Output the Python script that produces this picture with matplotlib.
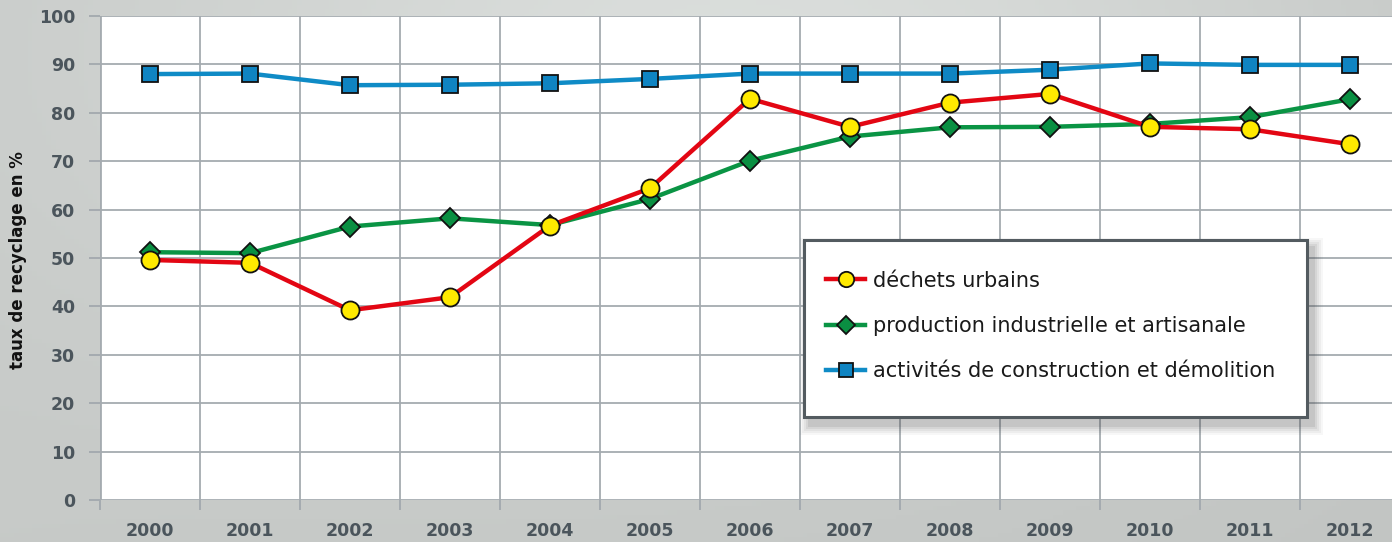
import numpy as np
import matplotlib
matplotlib.use("Agg")
import matplotlib.pyplot as plt
from matplotlib.patches import Rectangle

years = ["2000", "2001", "2002", "2003", "2004", "2005", "2006",
         "2007", "2008", "2009", "2010", "2011", "2012"]
urbains = [49.6, 49.0, 39.2, 41.9, 56.7, 64.4, 82.9, 77.1, 82.1, 83.9, 77.1, 76.6, 73.5]
industrie = [51.2, 51.0, 56.5, 58.2, 56.8, 62.2, 70.1, 75.1, 77.0, 77.1, 77.7, 79.1, 82.8]
construction = [88.0, 88.1, 85.7, 85.8, 86.1, 87.0, 88.1, 88.1, 88.1, 88.9, 90.2, 89.9, 89.9]

W, H = 1392, 542
fig = plt.figure(figsize=(W / 100, H / 100), dpi=100)

# grey gradient background
bg = fig.add_axes([0, 0, 1, 1], zorder=-10)
xx, yy = np.meshgrid(np.linspace(0, 1, 300), np.linspace(0, 1, 120))
glow = np.exp(-(((xx - 0.55) / 0.45) ** 2 + ((yy - 0.1) / 0.6) ** 2))
shade = 0.79 + 0.09 * glow - 0.02 * xx
bg.imshow(np.dstack([shade * 0.985, shade, shade * 0.99]).clip(0, 1),
          aspect="auto", extent=[0, 1, 0, 1], origin="upper")
bg.axis("off")

left, top, bottom = 100 / W, 16 / H, 500 / H
ax = fig.add_axes([left, 1 - bottom, 1300 / W, (bottom - top)])
ax.set_facecolor("white")

x = np.arange(len(years))
gridc = "#a5abb0"
ax.set_xlim(-0.5, 12.5)
ax.set_ylim(0, 100)
ax.set_yticks(range(0, 101, 10))
ax.set_xticks(x)
ax.set_xticklabels(years)
ax.set_xticks(np.arange(-0.5, 13, 1), minor=True)
ax.grid(False)
for v in range(10, 101, 10):
    ax.axhline(v, color=gridc, lw=1.3, zorder=0)
for v in np.arange(0.5, 12.5, 1):
    ax.axvline(v, color=gridc, lw=1.3, zorder=0)
for s in ax.spines.values():
    s.set_visible(False)
ax.axhline(0, color=gridc, lw=2.0, zorder=1)
ax.axvline(-0.5, color=gridc, lw=2.0, zorder=1)

ax.tick_params(axis="x", which="major", length=0, pad=16)
ax.tick_params(axis="x", which="minor", length=7, width=1.4, color=gridc)
ax.tick_params(axis="y", length=8, width=1.4, color=gridc, pad=10)
for lab in ax.get_xticklabels() + ax.get_yticklabels():
    lab.set_fontsize(12.5)
    lab.set_fontweight("bold")
    lab.set_color("#4b555c")

ax.plot(x, construction, color="#0f8bc6", lw=3.2, marker="s", ms=11.5,
        mfc="#0f84c2", mec="#111111", mew=1.3, zorder=3,
        label="activités de construction et démolition")
ax.plot(x, industrie, color="#0a9444", lw=3.2, marker="D", ms=10.5,
        mfc="#0a8f42", mec="#111111", mew=1.3, zorder=4,
        label="production industrielle et artisanale")
ax.plot(x, urbains, color="#e30613", lw=3.2, marker="o", ms=13,
        mfc="#ffea00", mec="#111111", mew=1.3, zorder=5,
        label="déchets urbains")

fig.text(18 / W, 1 - 260 / H, "taux de recyclage en %", rotation=90,
         ha="center", va="center", fontsize=12, fontweight="bold", color="#111111")

# legend box with soft shadow
bx0, by0, bx1, by1 = 804, 240, 1307, 417
for i, a in enumerate([0.04, 0.05, 0.06, 0.08, 0.1]):
    g = 10 - 2 * i
    fig.patches.append(Rectangle(((bx0 + 6 - g) / W, 1 - (by1 + 8 + g) / H),
                                 (bx1 - bx0 + 2 * g) / W, (by1 - by0 + 2 * g) / H,
                                 transform=fig.transFigure, facecolor="#404040",
                                 edgecolor="none", alpha=a, zorder=8))
fig.patches.append(Rectangle((bx0 / W, 1 - by1 / H), (bx1 - bx0) / W, (by1 - by0) / H,
                             transform=fig.transFigure, facecolor="white",
                             edgecolor="#535b60", lw=2.2, zorder=9))

handles, labels = ax.get_legend_handles_labels()
leg = fig.legend(handles[::-1], labels[::-1], loc="center left",
                 bbox_to_anchor=(807 / W, 1 - 326 / H), frameon=False,
                 fontsize=15, handlelength=1.9, handletextpad=0.35,
                 labelspacing=1.22, markerscale=0.85)
leg.set_zorder(10)
for t in leg.get_texts():
    t.set_color("#1a1a1a")

fig.savefig("out.png", dpi=100)
